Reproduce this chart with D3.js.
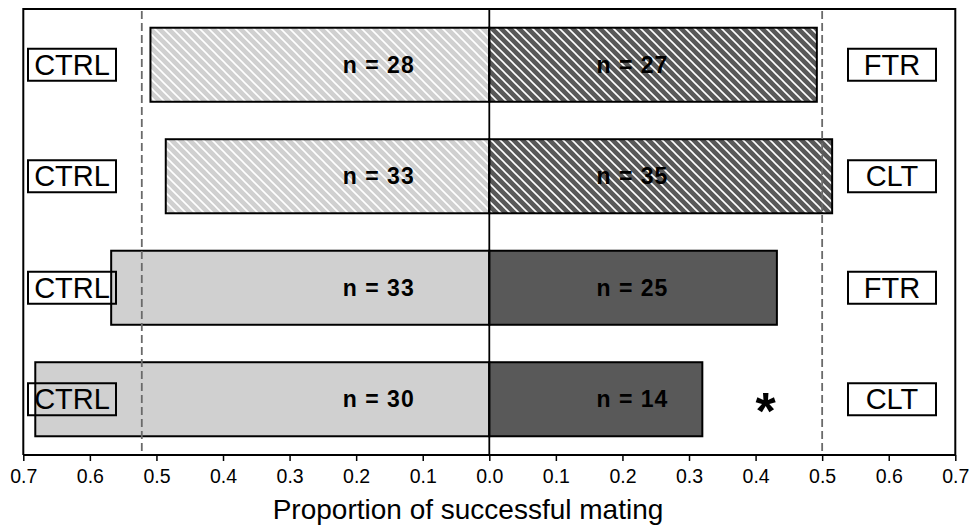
<!DOCTYPE html>
<html>
<head>
<meta charset="utf-8">
<script src="https://cdn.jsdelivr.net/npm/d3@7"></script>
<style>
  html, body { margin: 0; padding: 0; background: #fff; }
  svg { display: block; font-family: "Liberation Sans", Arial, sans-serif; }
</style>
</head>
<body>
<svg id="chart" width="971" height="526"></svg>
<script>
// ---- Data ----
const categories = ["Pair 1", "Pair 2", "Pair 3", "Pair 4"];
const leftLabels = ["CTRL", "CTRL", "CTRL", "CTRL"];
const rightLabels = ["FTR", "CLT", "FTR", "CLT"];
const ctrlValues = [0.509, 0.486, 0.568, 0.682];
const treatValues = [0.492, 0.515, 0.432, 0.320];
const ctrlN = [28, 33, 33, 30];
const treatN = [27, 35, 25, 14];
const hatched = [true, true, false, false];
const significance = ["", "", "", "*"];
const refLines = [-0.522, 0.5];
const tickValues = [-0.7, -0.6, -0.5, -0.4, -0.3, -0.2, -0.1, 0, 0.1, 0.2, 0.3, 0.4, 0.5, 0.6, 0.7];
const nLabelPos = [-0.166, 0.215];
const sigPos = 0.415;
const xTitle = "Proportion of successful mating";

// ---- Layout ----
const svg = d3.select("#chart");
const mLeft = 23.3, mRight = 955.3, mTop = 9, mBottom = 455;
const x = d3.scaleLinear().domain([-0.7, 0.7]).range([mLeft, mRight]);
const y = d3.scaleBand().domain(categories).range([mTop, mBottom]).paddingInner(0.336).paddingOuter(0.168);

const lightFill = "#d0d0d0", darkFill = "#595959";

// patterns
const defs = svg.append("defs");
function makePattern(id, bg) {
  const p = defs.append("pattern").attr("id", id).attr("patternUnits", "userSpaceOnUse")
    .attr("width", 9).attr("height", 9);
  p.append("rect").attr("width", 9).attr("height", 9).attr("fill", bg);
  p.append("path").attr("d", "M-1,-1 L10,10 M-1,8 L1,10 M8,-1 L10,1")
    .attr("stroke", "#fff").attr("stroke-width", 1.6);
}
makePattern("hatchLight", lightFill);
makePattern("hatchDark", darkFill);

const rows = categories.map((c, i) => ({
  c, i, ctrl: ctrlValues[i], treat: treatValues[i], nL: ctrlN[i], nR: treatN[i],
  hatch: hatched[i], lL: leftLabels[i], lR: rightLabels[i], sig: significance[i]
}));

// bars
const g = svg.append("g");
g.selectAll(".barL").data(rows).join("rect")
  .attr("x", d => x(-d.ctrl)).attr("width", d => x(0) - x(-d.ctrl))
  .attr("y", d => y(d.c)).attr("height", y.bandwidth())
  .attr("fill", d => d.hatch ? "url(#hatchLight)" : lightFill)
  .attr("stroke", "#000").attr("stroke-width", 2);
g.selectAll(".barR").data(rows).join("rect")
  .attr("x", x(0)).attr("width", d => x(d.treat) - x(0))
  .attr("y", d => y(d.c)).attr("height", y.bandwidth())
  .attr("fill", d => d.hatch ? "url(#hatchDark)" : darkFill)
  .attr("stroke", "#000").attr("stroke-width", 2);

// reference dashed lines
svg.selectAll(".ref").data(refLines).join("line")
  .attr("x1", d => x(d)).attr("x2", d => x(d))
  .attr("y1", mTop + 2).attr("y2", mBottom)
  .attr("stroke", "#6a6a6a").attr("stroke-width", 1.8).attr("stroke-dasharray", "8,4");

// center line
svg.append("line").attr("x1", x(0)).attr("x2", x(0)).attr("y1", mTop).attr("y2", mBottom)
  .attr("stroke", "#000").attr("stroke-width", 1.8);

// frame (left, top, right)
svg.append("path")
  .attr("d", `M${mLeft},${mBottom} L${mLeft},${mTop} L${mRight},${mTop} L${mRight},${mBottom}`)
  .attr("fill", "none").attr("stroke", "#000").attr("stroke-width", 2);

// n labels
const nText = svg.append("g").attr("font-weight", "bold").style("font-size", "23px")
  .attr("letter-spacing", 1).attr("text-anchor", "middle");
nText.selectAll(".nl").data(rows).join("text")
  .attr("x", x(nLabelPos[0])).attr("y", d => y(d.c) + y.bandwidth() / 2 + 8)
  .text(d => "n = " + d.nL);
nText.selectAll(".nr").data(rows).join("text")
  .attr("x", x(nLabelPos[1])).attr("y", d => y(d.c) + y.bandwidth() / 2 + 8)
  .text(d => "n = " + d.nR);

// group label boxes
const boxW = 88, boxH = 32;
const boxLx = 28, boxRx = 848;
function labelBoxes(bx, key) {
  const gg = svg.append("g");
  gg.selectAll("rect").data(rows).join("rect")
    .attr("x", bx).attr("y", d => y(d.c) + y.bandwidth() / 2 - boxH / 2)
    .attr("width", boxW).attr("height", boxH)
    .attr("fill", "none").attr("stroke", "#000").attr("stroke-width", 2);
  gg.selectAll("text").data(rows).join("text")
    .attr("x", bx + boxW / 2).attr("y", d => y(d.c) + y.bandwidth() / 2 + 10)
    .attr("text-anchor", "middle").style("font-size", "29px").attr("fill", "#000")
    .text(d => d[key]);
}
labelBoxes(boxLx, "lL");
labelBoxes(boxRx, "lR");

// significance
svg.selectAll(".sig").data(rows.filter(d => d.sig)).join("text")
  .attr("x", x(sigPos)).attr("y", d => y(d.c) + y.bandwidth() / 2 + 30)
  .attr("text-anchor", "middle").style("font-size", "52px").attr("font-weight", "bold")
  .text(d => d.sig);

// x axis
const axis = d3.axisBottom(x).tickValues(tickValues).tickSize(6).tickPadding(8)
  .tickFormat(d => d3.format(".1f")(Math.abs(d)));
const ax = svg.append("g").attr("transform", `translate(0,${mBottom})`).call(axis);
ax.attr("font-size", null).attr("font-family", null);
ax.select(".domain").attr("stroke-width", 2).attr("d", `M${mLeft},0H${mRight}`);
ax.selectAll(".tick line").attr("stroke-width", 1.5);
ax.selectAll(".tick text").style("font-size", "19.5px").style("font-family", "'Liberation Sans', Arial, sans-serif").attr("fill", "#000");

// x title
svg.append("text").attr("x", 468).attr("y", 519)
  .attr("text-anchor", "middle").style("font-size", "28px").text(xTitle);
</script>
</body>
</html>
